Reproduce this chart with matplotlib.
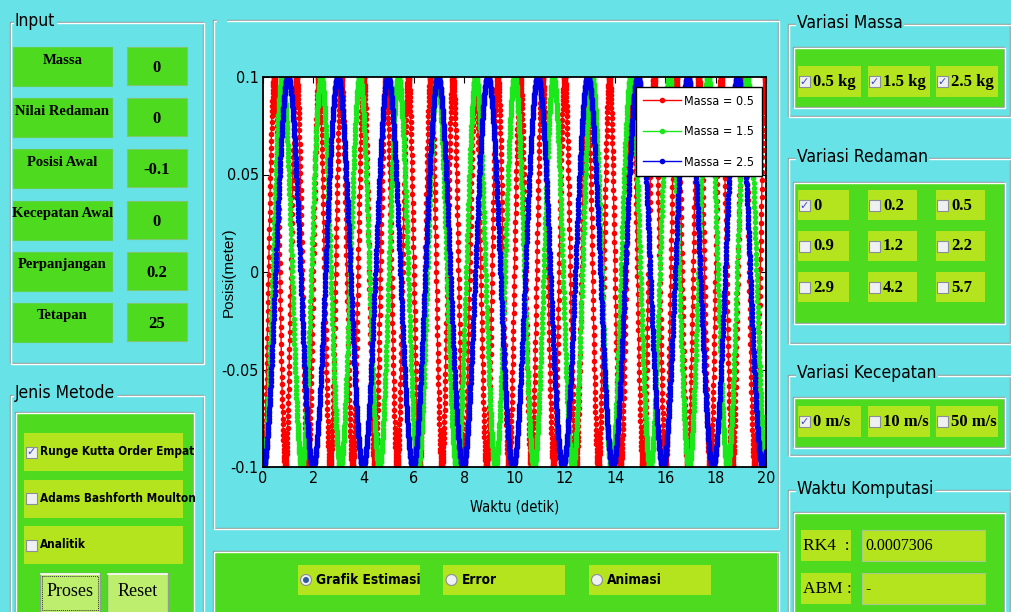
#!/usr/bin/env python3
"""Spring-mass oscillation panel: RK4 position traces for three masses,
drawn inside a mock-up of the simulation's control window."""
import matplotlib
matplotlib.use("Agg")
import matplotlib.pyplot as plt
from matplotlib import font_manager
from matplotlib.font_manager import FontProperties
from matplotlib.patches import Rectangle, Circle
import numpy as np

# model parameters used for the traces
MASSES = [0.5, 1.5, 2.5]
SPRING_K = 25.0
DAMPING = 0.0
X0 = -0.1
V0 = 0.0
T_END = 20.0
N_STEPS = 3000

# form contents
INPUT_LABELS = ["Massa", "Nilai Redaman", "Posisi Awal", "Kecepatan Awal", "Perpanjangan", "Tetapan"]
INPUT_VALUES = ["0", "0", "-0.1", "0", "0.2", "25"]
METHODS = ["Runge Kutta Order Empat", "Adams Bashforth Moulton", "Analitik"]
METHOD_CHECKED = [True, False, False]
MASS_OPTIONS = ["0.5 kg", "1.5 kg", "2.5 kg"]
MASS_CHECKED = [True, True, True]
DAMPING_OPTIONS = ["0", "0.2", "0.5", "0.9", "1.2", "2.2", "2.9", "4.2", "5.7"]
DAMPING_CHECKED = [True] + [False] * 8
SPEED_OPTIONS = ["0 m/s", "10 m/s", "50 m/s"]
SPEED_CHECKED = [True, False, False]
PLOT_MODES = ["Grafik Estimasi", "Error", "Animasi"]
PLOT_MODE_SELECTED = 0
TIMING_LABELS = ["RK4  :", "ABM :"]
TIMING_VALUES = ["0.0007306", "-"]

X_TICKS = [0, 2, 4, 6, 8, 10, 12, 14, 16, 18, 20]
Y_TICKS = [-0.1, -0.05, 0, 0.05, 0.1]
Y_TICK_LABELS = ["-0.1", "-0.05", "0", "0.05", "0.1"]

W, H = 1012, 612
CYAN = "#67E2E6"
GREEN = "#4EDB1F"
LIME = "#B4E41E"
BUTTON = "#BDEE6E"
LINE_COLORS = ["#FF0000", "#1BE81B", "#0000E6"]

SANS = ["Liberation Sans", "DejaVu Sans"]
SERIF = ["Liberation Serif", "DejaVu Serif"]


def _weight(w):
    if isinstance(w, str):
        return 700 if "bold" in w.lower() else 400
    return int(w)


def _narrow_file(bold):
    """Look for an installed condensed/narrow sans face."""
    hits = []
    for f in font_manager.fontManager.ttflist:
        name = f.name
        if "Serif" in name or "Mono" in name or f.style != "normal":
            continue
        narrow = f.stretch in ("condensed", "semi-condensed", "extra-condensed", 75, 87) \
            or "Narrow" in name or "Condensed" in name or "Cond" in f.fname
        if not narrow:
            continue
        if (_weight(f.weight) >= 600) != bold:
            continue
        hits.append(f.fname)
    return sorted(hits)[0] if hits else None


NARROW_REG = _narrow_file(False)
NARROW_BOLD = _narrow_file(True)


def narrow(size, bold=False):
    path = NARROW_BOLD if bold else NARROW_REG
    if path:
        return FontProperties(fname=path, size=size)
    return FontProperties(family=["Roboto", "DejaVu Sans"], size=size * 0.92,
                          weight="bold" if bold else "normal")


def rk4(m, k, c, x0, v0, t_end, n):
    h = t_end / n
    t = np.linspace(0, t_end, n + 1)
    x = np.empty(n + 1)
    v = np.empty(n + 1)
    x[0], v[0] = x0, v0

    def acc(xx, vv):
        return -(k * xx + c * vv) / m

    for i in range(n):
        k1x, k1v = v[i], acc(x[i], v[i])
        k2x, k2v = v[i] + h / 2 * k1v, acc(x[i] + h / 2 * k1x, v[i] + h / 2 * k1v)
        k3x, k3v = v[i] + h / 2 * k2v, acc(x[i] + h / 2 * k2x, v[i] + h / 2 * k2v)
        k4x, k4v = v[i] + h * k3v, acc(x[i] + h * k3x, v[i] + h * k3v)
        x[i + 1] = x[i] + h / 6 * (k1x + 2 * k2x + 2 * k3x + k4x)
        v[i + 1] = v[i] + h / 6 * (k1v + 2 * k2v + 2 * k3v + k4v)
    return t, x


def box(ax, x0, y0, x1, y1, fc, ec="none", lw=0.0, z=1):
    ax.add_patch(Rectangle((x0, y0), x1 - x0, y1 - y0, fc=fc, ec=ec, lw=lw, zorder=z))


def etched(ax, x0, y0, x1, y1, z=2):
    ax.add_patch(Rectangle((x0, y0), x1 - x0, y1 - y0, fill=False, ec="#8F9C9C", lw=1.0, zorder=z))
    ax.add_patch(Rectangle((x0 + 1.3, y0 + 1.3), x1 - x0, y1 - y0, fill=False, ec="white", lw=1.0, zorder=z))


def panel(ax, x0, y0, x1, y1, title, pad=5):
    etched(ax, x0, y0, x1, y1)
    ax.text(x0 + pad, y0 - 1.5, title, fontproperties=narrow(12.5), va="center", ha="left",
            bbox=dict(fc=CYAN, ec="none", pad=1.0), zorder=4)


def checkbox(ax, x, yc, checked):
    ax.add_patch(Rectangle((x, yc - 5.5), 11, 11, fc="#EEF0F2", ec="#8A8E96", lw=0.8, zorder=4))
    if checked:
        ax.text(x + 5.5, yc + 0.5, "\u2713", family="DejaVu Sans", fontsize=8, color="#3B4CC0",
                ha="center", va="center", zorder=5)


def radio(ax, x, yc, selected):
    ax.add_patch(Circle((x, yc), 5.5, fc="#EEF0F2", ec="#8A8E96", lw=0.8, zorder=4))
    if selected:
        ax.add_patch(Circle((x, yc), 3.0, fc="#2E5C9C", ec="none", zorder=5))


def draw_form(bg):
    # Input group
    panel(bg, 10, 22, 203, 363, "Input")
    for i, (lab, val) in enumerate(zip(INPUT_LABELS, INPUT_VALUES)):
        top = 47 + i * 51.2
        box(bg, 13, top, 112, top + 39, GREEN, ec="#63D24A", lw=0.8, z=2)
        box(bg, 127, top, 187, top + 38, GREEN, ec="#7FC86A", lw=0.8, z=2)
        bg.text(62.5, top + 13, lab, family=SERIF, weight="bold", fontsize=10.5,
                ha="center", va="center", zorder=3)
        bg.text(157, top + 21, val, family=SERIF, weight="bold", fontsize=12,
                ha="center", va="center", zorder=3)

    # Jenis Metode group
    panel(bg, 10, 395, 203, 640, "Jenis Metode")
    box(bg, 15, 412, 193, 640, GREEN, z=2)
    etched(bg, 15, 412, 193, 640, z=2)
    for i, (lab, on) in enumerate(zip(METHODS, METHOD_CHECKED)):
        top = 433 + i * 46.5
        box(bg, 24, top, 183, top + 38, LIME, z=3)
        checkbox(bg, 26, top + 19, on)
        bg.text(40, top + 19, lab, fontproperties=narrow(8.5, bold=True),
                ha="left", va="center", zorder=4)
    for x0, x1, lab in [(40, 100, "Proses"), (107, 168, "Reset")]:
        box(bg, x0, 573, x1, 616, BUTTON, ec="#8F9F8F", lw=1.0, z=3)
        bg.plot([x0 + 1, x1 - 1], [574, 574], color="white", lw=1.2, zorder=4)
        bg.text((x0 + x1) / 2, 592, lab, family=SERIF, fontsize=13, ha="center", va="center", zorder=4)
    bg.add_patch(Rectangle((42, 575.5), 56, 34, fill=False, ec="#333333", lw=0.7, ls=(0, (1, 1)), zorder=5))

    # plot frame and mode selector
    etched(bg, 213, 20, 778, 528)
    box(bg, 217, 17, 227, 24, CYAN, z=3)
    etched(bg, 213, 551, 778, 640)
    box(bg, 214.5, 553, 777, 640, GREEN, z=1.5)
    for i, lab in enumerate(PLOT_MODES):
        x0 = 298 + i * 145.5
        box(bg, x0, 565, x0 + 122, 595, LIME, z=3)
        radio(bg, x0 + 8, 580, i == PLOT_MODE_SELECTED)
        bg.text(x0 + 18, 580, lab, fontproperties=narrow(9.8, bold=True),
                ha="left", va="center", zorder=4)

    # Variasi Massa
    cols3 = [(798, 861), (868, 930), (936, 998)]
    panel(bg, 788, 24, 1010, 116, "Variasi Massa", pad=9)
    box(bg, 793, 47, 1004, 107, GREEN, z=2)
    etched(bg, 793, 47, 1004, 107, z=2)
    for (x0, x1), lab, on in zip(cols3, MASS_OPTIONS, MASS_CHECKED):
        box(bg, x0, 66, x1, 97, LIME, z=3)
        checkbox(bg, x0 + 1, 81.5, on)
        bg.text(x0 + 15, 82, lab, family=SERIF, weight="bold", fontsize=12,
                ha="left", va="center", zorder=4)

    # Variasi Redaman
    cols_d = [(798, 849), (868, 917), (936, 985)]
    panel(bg, 788, 158, 1010, 343, "Variasi Redaman", pad=9)
    box(bg, 793, 182, 1004, 323, GREEN, z=2)
    etched(bg, 793, 182, 1004, 323, z=2)
    for j, (lab, on) in enumerate(zip(DAMPING_OPTIONS, DAMPING_CHECKED)):
        x0, x1 = cols_d[j % 3]
        top = 190 + (j // 3) * 41
        box(bg, x0, top, x1, top + 30, LIME, z=3)
        checkbox(bg, x0 + 1, top + 15, on)
        bg.text(x0 + 15, top + 15.5, lab, family=SERIF, weight="bold", fontsize=12,
                ha="left", va="center", zorder=4)

    # Variasi Kecepatan
    panel(bg, 788, 375, 1010, 455, "Variasi Kecepatan", pad=9)
    box(bg, 793, 397, 1004, 447, GREEN, z=2)
    etched(bg, 793, 397, 1004, 447, z=2)
    for (x0, x1), lab, on in zip(cols3, SPEED_OPTIONS, SPEED_CHECKED):
        box(bg, x0, 406, x1, 437, LIME, z=3)
        checkbox(bg, x0 + 1, 421.5, on)
        bg.text(x0 + 15, 422, lab, family=SERIF, weight="bold", fontsize=12,
                ha="left", va="center", zorder=4)

    # Waktu Komputasi
    panel(bg, 788, 490, 1010, 640, "Waktu Komputasi", pad=9)
    box(bg, 793, 512, 1004, 640, GREEN, z=2)
    etched(bg, 793, 512, 1004, 640, z=2)
    for i, (lab, val) in enumerate(zip(TIMING_LABELS, TIMING_VALUES)):
        top = 530 + i * 43
        box(bg, 801, top, 851, top + 31, LIME, z=3)
        box(bg, 862, top, 985, top + 31, LIME, ec="#A8C890", lw=0.8, z=3)
        bg.text(803, top + 16, lab, family=SERIF, fontsize=12.5, ha="left", va="center", zorder=4)
        bg.text(865, top + 16, val, family=SERIF, fontsize=11.5, ha="left", va="center", zorder=4)


def draw_traces(fig):
    ax = fig.add_axes([263 / W, 1 - 467 / H, 503 / W, 390 / H])
    ax.set_facecolor("white")
    for m, color in zip(MASSES, LINE_COLORS):
        t, x = rk4(m, SPRING_K, DAMPING, X0, V0, T_END, N_STEPS)
        ax.plot(t, x, "-", color=color, lw=1.0, marker=".", ms=6, label=f"Massa = {m}")
    ax.set_xlim(0, T_END)
    ax.set_ylim(-0.1, 0.1)
    ax.set_xticks(X_TICKS)
    ax.set_xticklabels([str(v) for v in X_TICKS])
    ax.set_yticks(Y_TICKS)
    ax.set_yticklabels(Y_TICK_LABELS)
    ax.tick_params(direction="in", length=4, width=0.8, pad=3, top=True, right=True)
    for lab in ax.get_xticklabels() + ax.get_yticklabels():
        lab.set_fontproperties(narrow(11.5))
    for sp in ax.spines.values():
        sp.set_linewidth(1.3)
    ax.set_xlabel("Waktu (detik)", fontproperties=narrow(10.5))
    ax.xaxis.set_label_coords(0.5, -(500 - 467) / 390)
    ax.set_ylabel("Posisi(meter)", family=SANS, fontsize=11)
    ax.yaxis.set_label_coords(-(263 - 236) / 503, 0.5)
    leg = ax.legend(loc="upper right", bbox_to_anchor=(0.992, 0.974), borderaxespad=0,
                    fancybox=False, edgecolor="black", framealpha=1,
                    prop=narrow(9), handlelength=3.0,
                    handletextpad=0.3, labelspacing=1.4, borderpad=0.6)
    leg.get_frame().set_linewidth(1.0)
    return ax


def main() -> None:
    fig = plt.figure(figsize=(W / 100, H / 100), dpi=100, facecolor=CYAN)
    bg = fig.add_axes([0, 0, 1, 1])
    bg.set_xlim(0, W)
    bg.set_ylim(H, 0)
    bg.axis("off")
    draw_form(bg)
    draw_traces(fig)
    fig.savefig("out.png", dpi=100, facecolor=CYAN)
    plt.close(fig)


if __name__ == "__main__":
    main()
